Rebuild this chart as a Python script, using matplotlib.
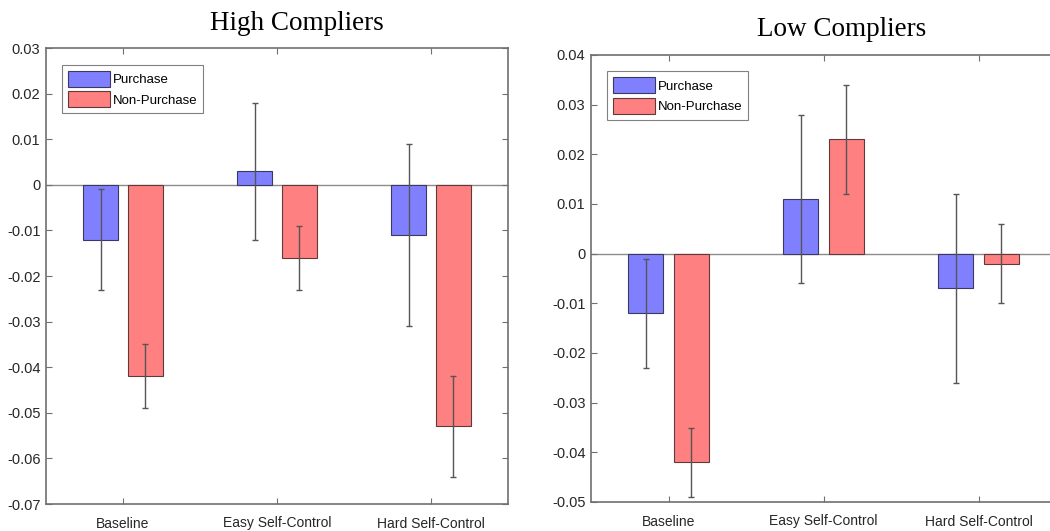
import matplotlib.pyplot as plt
import numpy as np

categories = ['Baseline', 'Easy Self-Control', 'Hard Self-Control']
series = ['Purchase', 'Non-Purchase']

high_purchase = [-0.012, 0.003, -0.011]
high_purchase_err = [0.011, 0.015, 0.020]
high_nonpurchase = [-0.042, -0.016, -0.053]
high_nonpurchase_err = [0.007, 0.007, 0.011]

low_purchase = [-0.012, 0.011, -0.007]
low_purchase_err = [0.011, 0.017, 0.019]
low_nonpurchase = [-0.042, 0.023, -0.002]
low_nonpurchase_err = [0.007, 0.011, 0.008]

high_yticks = [0.03, 0.02, 0.01, 0, -0.01, -0.02, -0.03, -0.04, -0.05, -0.06, -0.07]
low_yticks = [0.04, 0.03, 0.02, 0.01, 0, -0.01, -0.02, -0.03, -0.04, -0.05]

blue = '#8080ff'
red = '#ff8080'
W, H = 1050, 531

fig = plt.figure(figsize=(W / 100, H / 100), dpi=100)


def panel(rect, title, title_xy, pur, pur_err, non, non_err, yticks):
    ax = fig.add_axes(rect)
    x = np.arange(1, len(categories) + 1)
    off = 0.146
    bw = 0.225
    ax.axhline(0, color='#8c8c8c', lw=1, zorder=1)
    ax.bar(x - off, pur, bw, color=blue, edgecolor='#3a3a60', lw=0.8, label=series[0], zorder=2)
    ax.bar(x + off, non, bw, color=red, edgecolor='#603a3a', lw=0.8, label=series[1], zorder=2)
    ax.errorbar(x - off, pur, yerr=pur_err, fmt='none', ecolor='#555555', elinewidth=1,
                capsize=2.5, capthick=1, zorder=3)
    ax.errorbar(x + off, non, yerr=non_err, fmt='none', ecolor='#555555', elinewidth=1,
                capsize=2.5, capthick=1, zorder=3)
    ax.set_xlim(0.5, 3.5)
    ax.set_ylim(min(yticks), max(yticks))
    ax.set_xticks(x)
    ax.set_xticklabels(categories)
    ax.set_yticks(yticks)
    ax.set_yticklabels(['0' if t == 0 else f'{t:.2f}' for t in yticks])
    ax.tick_params(direction='in', top=True, right=True, length=4, color='#707070',
                   labelcolor='#262626')
    ax.tick_params(axis='x', pad=9, labelsize=10)
    ax.tick_params(axis='y', pad=4, labelsize=10.5)
    for s in ax.spines.values():
        s.set_color('#707070')
        s.set_linewidth(1.2)
    leg = ax.legend(loc='upper left', bbox_to_anchor=(0.02, 0.978), fontsize=9.5,
                    handlelength=3.2, handleheight=1.5, handletextpad=0.2,
                    labelspacing=0.35, borderpad=0.45, fancybox=False,
                    edgecolor='#808080', framealpha=1)
    leg.get_frame().set_linewidth(0.8)
    fig.text(title_xy[0] / W, 1 - title_xy[1] / H, title, ha='center', va='center',
             family='Liberation Serif', fontsize=19.5)
    return ax


plt.rcParams['font.family'] = ['Liberation Sans', 'DejaVu Sans']

panel([46 / W, (H - 504) / H, 462 / W, 456 / H], 'High Compliers', (297, 24),
      high_purchase, high_purchase_err, high_nonpurchase, high_nonpurchase_err, high_yticks)
panel([591 / W, (H - 502) / H, 465 / W, 447 / H], 'Low Compliers', (842, 29),
      low_purchase, low_purchase_err, low_nonpurchase, low_nonpurchase_err, low_yticks)

fig.savefig('out.png', dpi=100)
